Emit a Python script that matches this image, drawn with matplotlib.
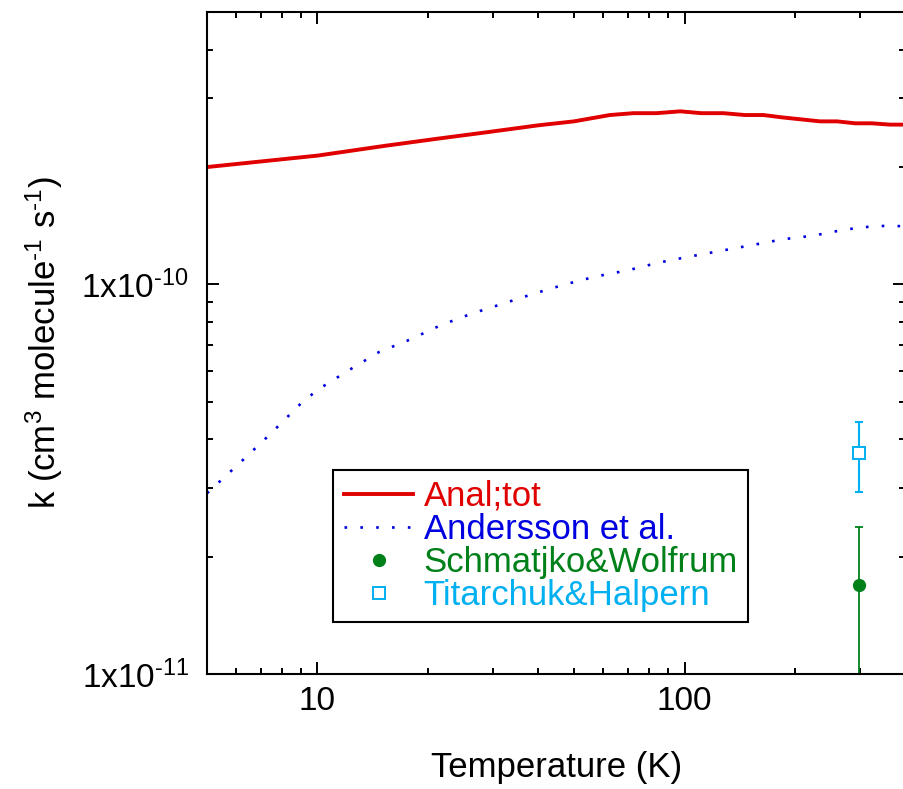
import numpy as np
import matplotlib
matplotlib.use("Agg")
import matplotlib.pyplot as plt
from matplotlib.ticker import FixedLocator, LogLocator, NullFormatter, FixedFormatter

plt.rcParams['font.family'] = ['Liberation Sans', 'DejaVu Sans']
plt.rcParams['mathtext.fontset'] = 'custom'
plt.rcParams['mathtext.rm'] = 'Liberation Sans'
plt.rcParams['mathtext.it'] = 'Liberation Sans:italic'
plt.rcParams['mathtext.bf'] = 'Liberation Sans:bold'

# Anal;tot (total rate coefficient)
t_anal = [5, 10, 15.4, 21.6, 28.3, 40, 50, 62.6, 72.6, 84, 97.3, 111, 127.5,
          146, 164, 186, 234, 260, 292, 324, 363, 400]
k_anal = [2.00e-10, 2.14e-10, 2.27e-10, 2.37e-10, 2.45e-10, 2.56e-10, 2.62e-10,
          2.72e-10, 2.75e-10, 2.75e-10, 2.78e-10, 2.75e-10, 2.75e-10, 2.72e-10,
          2.72e-10, 2.68e-10, 2.62e-10, 2.62e-10, 2.59e-10, 2.59e-10, 2.57e-10,
          2.57e-10]

# Andersson et al.
t_and = [5, 6.1, 7.4, 9.0, 10, 12.1, 14.7, 17.9, 21.7, 26.4, 32, 38.8, 47.3,
         57.4, 69.9, 85, 103, 125, 152, 185, 225, 273, 331, 365, 400]
k_and = [2.91e-11, 3.46e-11, 4.11e-11, 4.94e-11, 5.36e-11, 6.00e-11, 6.70e-11,
         7.22e-11, 7.86e-11, 8.42e-11, 8.92e-11, 9.46e-11, 1.00e-10, 1.048e-10,
         1.086e-10, 1.137e-10, 1.178e-10, 1.218e-10, 1.26e-10, 1.305e-10,
         1.334e-10, 1.382e-10, 1.412e-10, 1.412e-10, 1.41e-10]

# measurements at room temperature
t_sw = [298]
k_sw = [1.69e-11]
err_sw = [0.7e-11]

t_th = [298]
k_th = [3.69e-11]
err_th = [0.75e-11]

xticks = [10, 100]
xticklabels = ['10', '100']
yticks = [1e-11, 1e-10]
yticklabels = [r'1x10$^{\text{-11}}$', r'1x10$^{\text{-10}}$']

red = '#e00000'
blue = '#0000e0'
green = '#008018'
cyan = '#00b0f0'

fig = plt.figure(figsize=(9.04, 7.89), dpi=100)
ax = fig.add_axes([207 / 904, 115 / 789, 698.5 / 904, 662 / 789])

ax.plot(t_anal, k_anal, color=red, lw=2.8, solid_joinstyle='miter',
        label='Anal;tot')
ax.plot(t_and, k_and, color=blue, lw=1.9, linestyle=(0, (1, 5.0)),
        dash_capstyle='butt', label='Andersson et al.')

ax.errorbar(t_sw, k_sw, yerr=err_sw, fmt='none', ecolor=green, elinewidth=1.3,
            capsize=3, capthick=1.3)
ax.plot(t_sw, k_sw, 'o', color=green, ms=8.5, ls='none',
        label='Schmatjko&Wolfrum')
ax.errorbar(t_th, k_th, yerr=err_th, fmt='none', ecolor=cyan, elinewidth=1.5,
            capsize=3, capthick=1.5)
ax.plot(t_th, k_th, 's', mfc='white', mec=cyan, mew=1.4, ms=8, ls='none',
        label='Titarchuk&Halpern')

ax.set_xscale('log')
ax.set_yscale('log')
ax.set_xlim(5, 400)
ax.set_ylim(1e-11, 5e-10)

ax.xaxis.set_major_locator(FixedLocator(xticks))
ax.xaxis.set_major_formatter(FixedFormatter(xticklabels))
ax.xaxis.set_minor_locator(LogLocator(base=10, subs=np.arange(2, 10)))
ax.xaxis.set_minor_formatter(NullFormatter())
ax.yaxis.set_major_locator(FixedLocator(yticks))
ax.yaxis.set_major_formatter(FixedFormatter(yticklabels))
ax.yaxis.set_minor_locator(LogLocator(base=10, subs=np.arange(2, 10)))
ax.yaxis.set_minor_formatter(NullFormatter())

ax.tick_params(which='both', direction='in', top=True, right=True,
               width=1.4, labelsize=24)
ax.tick_params(which='major', length=8.6, pad=9)
ax.tick_params(which='minor', length=4.5)
ax.tick_params(axis='y', which='major', pad=13)
for s in ax.spines.values():
    s.set_linewidth(1.5)

ax.set_xlabel('Temperature (K)', fontsize=25, labelpad=24)
ax.set_ylabel(r'k (cm$^{\text{3}}$ molecule$^{\text{-1}}$ s$^{\text{-1}}$)',
              fontsize=25, labelpad=12)

leg = ax.legend(loc='lower left', bbox_to_anchor=(0.181, 0.078),
                borderaxespad=0, fontsize=25, frameon=True, fancybox=False,
                edgecolor='black', framealpha=1, handlelength=2.0,
                handletextpad=0.3, labelspacing=0.0, borderpad=0.3)
leg.get_frame().set_linewidth(1.5)
for txt, c in zip(leg.get_texts(), [red, blue, green, cyan]):
    txt.set_color(c)

fig.savefig('out.png', dpi=100)
